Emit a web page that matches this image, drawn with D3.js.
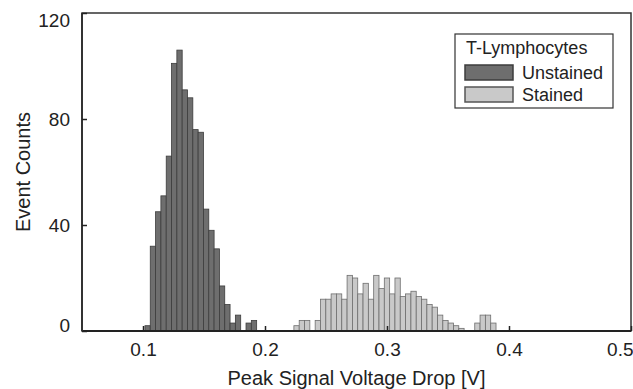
<!DOCTYPE html>
<html><head><meta charset="utf-8">
<script src="https://cdn.jsdelivr.net/npm/d3@7"></script>
<style>body{margin:0;background:#fff;} text{font-family:"Liberation Sans",Arial,sans-serif;fill:#222;}</style>
</head><body><svg id="c" width="633" height="389"></svg>
<script>
// bin grid
const binStart = 0.1016, binWidth = 0.00436;
// Unstained counts, starting at bin 0
const unstainedStart = 0;
const unstained = [2,32,45,51,66,101,106,91,88,76,75,46,38,31,17,10,3,6,0,3,4];
// Stained counts, starting at bin 28
const stainedStart = 28;
const stained = [2,4,4,0,4,12,12,14,14,12,21,20,14,18,12,21,16,20,14,20,13,14,15,13,12,10,9,6,4,3,2,1,0,0,3,6,6,3];
const xTicks = [0.1,0.2,0.3,0.4,0.5];
const yTicks = [0,40,80,120];
const legendTitle = "T-Lymphocytes";
const seriesNames = ["Unstained","Stained"];

const svg = d3.select("#c");
const L=82,R=631,T=13,B=331;
const x = d3.scaleLinear().domain([0.05,0.5]).range([L,R]);
const y = d3.scaleLinear().domain([0,120]).range([B,T]);

function bars(data,start,fill,stroke){
  svg.append("g").selectAll("rect").data(data.map((v,i)=>({v,i:i+start}))).join("rect")
    .attr("x",d=>x(binStart+d.i*binWidth))
    .attr("width",d=>x(binStart+(d.i+1)*binWidth)-x(binStart+d.i*binWidth))
    .attr("y",d=>y(d.v)).attr("height",d=>B-y(d.v))
    .attr("fill",fill).attr("stroke",stroke).attr("stroke-width",0.8);
}
bars(unstained,unstainedStart,"#6e6e6e","#3c3c3c");
bars(stained,stainedStart,"#c9c9c9","#6e6e6e");

// frame
svg.append("rect").attr("x",L).attr("y",T).attr("width",R-L).attr("height",B-T)
  .attr("fill","none").attr("stroke","#333").attr("stroke-width",1.5);
svg.append("line").attr("x1",L).attr("x2",R).attr("y1",B).attr("y2",B).attr("stroke","#222").attr("stroke-width",2);
svg.append("line").attr("x1",L).attr("x2",L).attr("y1",T).attr("y2",B).attr("stroke","#333").attr("stroke-width",2);

// x axis
const xa = svg.append("g").attr("transform",`translate(0,${B})`)
  .call(d3.axisBottom(x).tickValues(xTicks).tickSize(-5).tickPadding(12).tickFormat(d3.format(".1f")));
xa.select(".domain").remove();
xa.selectAll("line").attr("stroke","#222").attr("stroke-width",1.5);
xa.selectAll("text").attr("font-size",19).style("fill","#222");
xa.selectAll(".tick").filter(d=>d===0.5).select("text").attr("text-anchor","end").attr("dx",2);

const ya = svg.append("g").attr("transform",`translate(${L},0)`)
  .call(d3.axisLeft(y).tickValues(yTicks).tickSize(-5).tickPadding(12));
ya.select(".domain").remove();
ya.selectAll("line").attr("stroke","#222").attr("stroke-width",1.5);
ya.selectAll("text").attr("font-size",19).style("fill","#222");
ya.selectAll(".tick").filter(d=>d===0).select("text").attr("y",-6);
ya.selectAll(".tick").filter(d=>d===120).select("text").attr("y",7);

svg.append("text").attr("x",(L+R)/2).attr("y",385).attr("text-anchor","middle").attr("font-size",20).text("Peak Signal Voltage Drop [V]");
svg.append("text").attr("transform",`translate(30,${(T+B)/2}) rotate(-90)`).attr("text-anchor","middle").attr("font-size",20).text("Event Counts");

// legend
const lg = svg.append("g");
lg.append("rect").attr("x",455).attr("y",34).attr("width",158).attr("height",74).attr("fill","#fff").attr("stroke","#333").attr("stroke-width",1.2);
lg.append("text").attr("x",466).attr("y",54).attr("font-size",18).text(legendTitle);
const fills=[["#6e6e6e","#3c3c3c"],["#c9c9c9","#555"]];
seriesNames.forEach((n,i)=>{
  lg.append("rect").attr("x",465).attr("y",65+i*22).attr("width",48).attr("height",15).attr("fill",fills[i][0]).attr("stroke",fills[i][1]).attr("stroke-width",1.5);
  lg.append("text").attr("x",522).attr("y",79+i*22).attr("font-size",18).text(n);
});
</script></body></html>
